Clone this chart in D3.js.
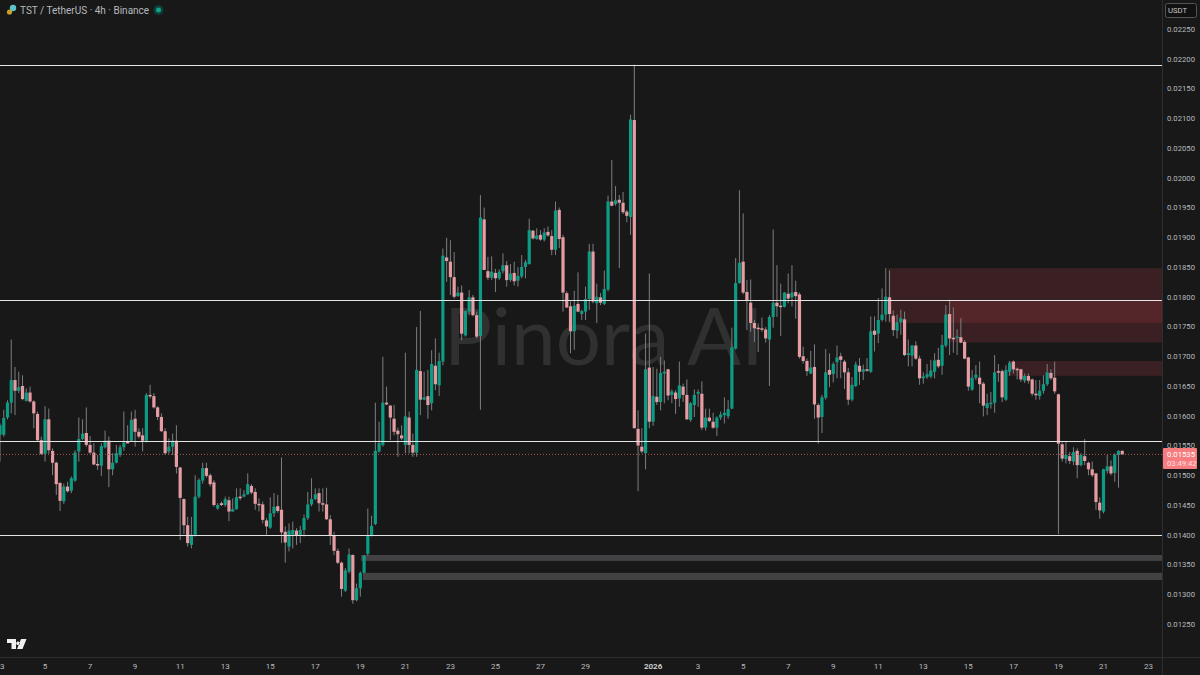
<!DOCTYPE html>
<html lang="en">
<head>
<meta charset="UTF-8">
<title>TST / TetherUS 4h</title>
<script src="https://d3js.org/d3.v7.min.js"></script>
<style>
    html, body { margin: 0; padding: 0; background: #181818; }
    svg { display: block; }
    text { font-family: "Roboto", "Noto Sans", sans-serif; }
</style>
</head>
<body>
<svg id="chart" width="1200" height="675"></svg>
<script>
// 4h candles from 3 Dec 2025, prices in 1e-5 USDT
const opens = [1568,1568,1597,1622,1660,1642,1650,1625,1639,1624,1603,1559,1536,1594,1541,1521,1487,1456,1481,1474,1491,1540,1561,1571,1551,1538,1519,1516,1547,1558,1510,1521,1534,1547,1556,1558,1595,1573,1567,1558,1635,1633,1614,1598,1574,1540,1548,1558,1513,1460,1416,1383,1400,
    1464,1491,1512,1500,1488,1444,1453,1450,1458,1439,1443,1464,1464,1468,1482,1472,1452,1451,1424,1412,1436,1448,1442,1405,1380,1400,1407,1398,1408,1428,1451,1460,1470,1453,1451,1426,1398,1373,1353,1306,1338,1366,1290,1310,1336,1368,1398,1418,1540,
    1551,1622,1617,1595,1575,1567,1551,1597,1551,1538,1675,1627,1633,1621,1684,1651,1691,1866,1859,1833,1801,1807,1735,1775,1799,1769,1734,1930,1843,1832,1840,1831,1843,1853,1828,1840,1827,
    1834,1850,1855,1911,1897,1904,1896,1909,1902,1879,1946,1900,1806,1784,1742,1788,1771,1775,1796,1876,1789,1799,1788,1812,1960,1956,1963,1958,1943,1934,2097,1578,1548,1537,
    1681,1590,1632,1623,1671,1678,1635,1639,1629,1649,1635,1593,1618,1637,1637,1580,1597,1590,1580,1597,1601,1599,1612,1713,1823,1859,1808,1790,1756,1748,1747,1745,1728,1766,1790,1785,1783,1805,1799,1808,1804,1700,1692,1671,1682,1618,
    1598,1630,1677,1670,1690,1700,1691,1673,1627,1650,1684,1674,1678,1674,1743,1738,1761,1770,1799,1768,1743,1757,1762,1702,1701,1718,1696,1663,1665,1666,1674,1694,1684,1718,1771,1731,1732,1732,
    1724,1698,1644,1664,1664,1654,1613,1620,1622,1675,1675,1627,1674,1691,1679,1678,1659,1667,1661,1637,1633,1642,1653,1672,1664,1636,1552,1527,1532,1523,1541,1517,1532,1521,1510,1503,1454,1439,1507,1515,1504,1534,1541];
const closes = [1584,1596,1622,1660,1642,1648,1628,1639,1624,1604,1559,1536,1594,1542,1521,1485,1457,1481,1473,1495,1538,1561,1570,1551,1538,1518,1517,1549,1558,1510,1521,1537,1547,1555,1555,1593,1573,1565,1558,1635,1633,1614,1598,1574,1537,1548,1558,1514,1462,1416,1386,1400,1464,
    1492,1512,1499,1485,1450,1450,1450,1460,1439,1443,1463,1463,1468,1485,1471,1452,1451,1425,1414,1436,1447,1440,1404,1387,1407,1408,1398,1408,1428,1451,1460,1468,1453,1452,1426,1398,1373,1353,1309,1340,1367,1290,1310,1336,1365,1398,1415,1541,1554,
    1622,1619,1597,1573,1569,1562,1599,1551,1538,1677,1627,1631,1618,1687,1653,1692,1869,1860,1833,1800,1807,1738,1776,1799,1769,1733,1933,1845,1832,1842,1831,1842,1853,1828,1839,1826,1835,
    1850,1858,1912,1898,1903,1896,1908,1903,1879,1945,1897,1807,1782,1742,1785,1775,1776,1796,1876,1792,1800,1790,1813,1960,1953,1962,1958,1942,1936,2098,1579,1550,1540,1678,
    1590,1633,1623,1672,1674,1634,1641,1628,1651,1635,1594,1621,1635,1640,1580,1597,1591,1580,1597,1602,1605,1611,1715,1823,1857,1807,1793,1756,1747,1746,1745,1730,1766,1790,1784,1783,1807,1797,1807,1801,1699,1692,1675,1681,1619,1597,
    1631,1673,1669,1687,1698,1694,1673,1627,1652,1686,1674,1678,1677,1742,1736,1761,1770,1800,1771,1744,1757,1764,1702,1705,1718,1696,1663,1666,1670,1676,1693,1683,1719,1770,1730,1730,1733,1723,
    1696,1649,1664,1669,1653,1617,1621,1622,1673,1674,1631,1677,1689,1678,1678,1661,1667,1659,1637,1635,1642,1653,1673,1663,1641,1553,1528,1534,1524,1539,1517,1534,1524,1510,1500,1455,1441,1510,1515,1503,1534,1541,1535];
const highs = [1587,1610,1626,1728,1682,1674,1668,1646,1649,1626,1607,1565,1616,1612,1545,1523,1489,1486,1489,1498,1542,1597,1594,1614,1566,1554,1534,1554,1575,1565,1537,1551,1551,1607,1584,1607,1610,1579,1579,1638,1652,1638,1616,1604,1579,1562,1570,1584,1514,1461,1430,1430,1500,
    1495,1521,1521,1503,1492,1453,1456,1464,1464,1461,1478,1478,1475,1503,1485,1478,1461,1456,1428,1463,1470,1467,1530,1414,1419,1422,1411,1415,1434,1472,1495,1478,1478,1478,1479,1433,1405,1377,1355,1344,1377,1367,1318,1338,1366,1444,1432,1622,1590,
    1699,1649,1618,1618,1580,1584,1706,1607,1570,1749,1776,1674,1677,1710,1730,1706,1881,1899,1895,1875,1817,1819,1777,1811,1803,1775,1971,1950,1867,1868,1847,1846,1873,1860,1855,1859,1850,
    1870,1862,1931,1912,1915,1912,1915,1918,1912,1960,1950,1904,1809,1792,1810,1841,1778,1817,1889,1889,1822,1806,1844,1970,2030,1986,1971,1976,1946,2106,2190,1609,1579,1738,
    1839,1682,1679,1699,1693,1679,1644,1643,1691,1654,1661,1623,1644,1644,1658,1612,1612,1605,1599,1607,1631,1626,1748,1865,1979,1940,1828,1829,1761,1755,1765,1749,1769,1913,1853,1822,1808,1839,1853,1827,1807,1716,1696,1709,1720,1621,
    1635,1712,1705,1690,1718,1706,1694,1680,1665,1691,1697,1686,1697,1767,1767,1798,1814,1848,1844,1777,1770,1778,1775,1728,1719,1725,1701,1673,1687,1694,1705,1714,1736,1786,1795,1782,1745,1764,
    1727,1699,1677,1685,1691,1657,1637,1640,1702,1687,1678,1685,1692,1693,1681,1679,1671,1671,1663,1660,1660,1668,1687,1678,1691,1637,1556,1556,1539,1547,1545,1537,1561,1523,1523,1504,1463,1511,1534,1525,1537,1542,1542];
const lows = [1523,1565,1594,1604,1601,1638,1626,1624,1622,1579,1556,1534,1523,1536,1500,1467,1440,1452,1471,1470,1489,1523,1559,1548,1536,1517,1509,1499,1545,1480,1500,1520,1531,1541,1554,1556,1548,1562,1540,1555,1629,1612,1593,1573,1534,1536,1534,1503,1391,1401,1380,1377,1397,
    1461,1486,1496,1481,1447,1442,1448,1447,1423,1439,1442,1458,1463,1467,1468,1442,1439,1419,1400,1410,1430,1437,1386,1353,1372,1377,1383,1386,1397,1425,1448,1458,1439,1439,1425,1383,1366,1351,1296,1304,1335,1284,1288,1296,1335,1365,1397,1416,1538,
    1548,1618,1559,1567,1531,1559,1537,1537,1531,1531,1601,1626,1595,1609,1643,1633,1685,1825,1803,1797,1800,1727,1733,1769,1767,1730,1610,1845,1828,1828,1808,1828,1839,1817,1825,1819,1817,
    1831,1831,1854,1896,1896,1894,1893,1901,1870,1870,1882,1775,1781,1705,1711,1774,1761,1761,1778,1789,1756,1786,1786,1809,1952,1953,1848,1939,1925,1904,1579,1473,1537,1510,
    1579,1583,1618,1609,1621,1626,1621,1603,1615,1623,1593,1590,1598,1615,1576,1575,1589,1578,1566,1593,1587,1595,1611,1711,1822,1804,1744,1741,1724,1707,1741,1723,1650,1748,1766,1734,1782,1789,1784,1763,1696,1688,1667,1670,1595,1553,
    1571,1627,1648,1656,1663,1663,1645,1618,1624,1648,1652,1660,1674,1672,1708,1722,1758,1758,1758,1734,1730,1736,1700,1683,1683,1694,1652,1654,1662,1663,1663,1680,1669,1715,1702,1706,1702,1722,
    1695,1642,1642,1660,1621,1599,1601,1612,1605,1657,1623,1625,1667,1671,1661,1657,1655,1654,1633,1627,1627,1637,1650,1660,1637,1401,1523,1520,1519,1517,1495,1515,1517,1500,1497,1442,1427,1436,1503,1500,1489,1479,1534];

// horizontal levels, shaded zones (price bands starting at a bar) and axis labels
const levelPrices = [2189, 1794, 1558, 1399];
const redZoneStart = [236.6, 253, 268.6];
const redZoneTop = [1848, 1793, 1692];
const redZoneBottom = [1756, 1723, 1667];
const greyZoneStart = [96.2, 96.7];
const greyZoneTop = [1366, 1336];
const greyZoneBottom = [1356, 1324];
const priceTicks = [2250,2200,2150,2100,2050,2000,1950,1900,1850,1800,1750,1700,1650,1600,1550,1500,1450,1400,1350,1300,1250];
const dayOffsets = [0,2,4,6,8,10,12,14,16,18,20,22,24,26,29,31,33,35,37,39,41,43,45,47,49,51];
const dayLabels = ["3","5","7","9","11","13","15","17","19","21","23","25","27","29","2026","3","5","7","9","11","13","15","17","19","21","23"];
const lastPrice = 1535;
const countdown = "03:49:42";

const plotRight = 1162, plotBottom = 657;
const svg = d3.select("#chart");

const x = d3.scaleLinear().domain([0, 6]).range([0, 22.52]);  // bars, 6 a day
const y = d3.scaleLinear().domain([2250, 1250]).range([29, 624]);

const barsPerDay = 6;
const green = "#0c9b84", pink = "#e59ca2";

svg.append("rect").attr("width", 1200).attr("height", 675).attr("fill", "#181818");

// the reference is a soft screenshot, a tiny blur gets the candles closer to it
svg.append("defs").append("filter").attr("id", "soft")
    .append("feGaussianBlur").attr("stdDeviation", 0.3);

// watermark
svg.append("text")
    .attr("x", 444).attr("y", 365)
    .attr("fill", "#303030")
    .style("font-family", "Lato")
    .style("font-size", "80px")
    .text("Pinora AI");

// zones
const zones = svg.append("g");
redZoneStart.forEach((s, i) => {
    zones.append("rect")
        .attr("x", x(s)).attr("y", y(redZoneTop[i]))
        .attr("width", plotRight - x(s))
        .attr("height", y(redZoneBottom[i]) - y(redZoneTop[i]))
        .attr("fill", "#a83a44").attr("fill-opacity", 0.24);
});
greyZoneStart.forEach((s, i) => {
    zones.append("rect")
        .attr("x", x(s)).attr("y", y(greyZoneTop[i]))
        .attr("width", plotRight - x(s))
        .attr("height", y(greyZoneBottom[i]) - y(greyZoneTop[i]))
        .attr("fill", "#424244");
});

// candles
const candles = svg.append("g").attr("filter", "url(#soft)").selectAll("g")
    .data(d3.range(opens.length))
    .join("g");

candles.append("line")
    .attr("x1", i => x(i))
    .attr("x2", i => x(i))
    .attr("y1", i => y(highs[i]))
    .attr("y2", i => y(lows[i]))
    .attr("stroke", "#7b7d80")
    .attr("stroke-width", 1);

candles.append("rect")
    .attr("x", i => x(i) - 1.6)
    .attr("width", 3.2)
    .attr("y", i => y(Math.max(opens[i], closes[i])))
    .attr("height", i => Math.max(1.5, Math.abs(y(opens[i]) - y(closes[i]))))
    .attr("fill", i => closes[i] >= opens[i] ? green : pink);

// levels
svg.append("g").selectAll("line")
    .data(levelPrices)
    .join("line")
    .attr("x1", 0).attr("x2", plotRight)
    .attr("y1", d => Math.round(y(d)) + 0.5).attr("y2", d => Math.round(y(d)) + 0.5)
    .attr("stroke", "#e4e4e4").attr("stroke-width", 1);

// last price line
svg.append("line")
    .attr("x1", 0).attr("x2", plotRight)
    .attr("y1", y(lastPrice)).attr("y2", y(lastPrice))
    .attr("stroke", "#a85a58").attr("stroke-width", 1)
    .attr("stroke-dasharray", "1 2");

// axis borders
svg.append("line").attr("x1", plotRight + 0.5).attr("x2", plotRight + 0.5)
    .attr("y1", 0).attr("y2", 675).attr("stroke", "#2e2e2e");
svg.append("line").attr("x1", 0).attr("x2", 1200)
    .attr("y1", plotBottom + 0.5).attr("y2", plotBottom + 0.5).attr("stroke", "#2e2e2e");

// price axis
const priceAxis = d3.axisRight(y)
    .tickValues(priceTicks)
    .tickSize(0)
    .tickPadding(0)
    .tickFormat(d => (d / 1e5).toFixed(5));
svg.append("g")
    .attr("transform", "translate(1167,0)")
    .call(priceAxis)
    .call(g => g.select(".domain").remove())
    .selectAll("text")
    .attr("fill", "#b8babf")
    .style("font-family", "Roboto")
    .style("font-size", "7.7px");

// time axis
const timeAxis = svg.append("g");
timeAxis.selectAll("text")
    .data(dayOffsets)
    .join("text")
    .attr("x", d => x(d * barsPerDay))
    .attr("y", 669)
    .attr("text-anchor", (d, i) => i === 0 ? "start" : "middle")
    .attr("fill", (d, i) => dayLabels[i] === "2026" ? "#d8d8d8" : "#b8babf")
    .style("font-size", "8px")
    .style("font-weight", (d, i) => dayLabels[i] === "2026" ? 600 : 400)
    .text((d, i) => dayLabels[i]);

// last price label
svg.append("rect").attr("x", 1163).attr("y", y(lastPrice) - 6.5)
    .attr("width", 34).attr("height", 21).attr("rx", 1).attr("fill", "#f77c80");
svg.append("text").attr("x", 1167).attr("y", y(lastPrice) + 2.5)
    .attr("fill", "#ffffff").style("font-size", "7.7px")
    .text((lastPrice / 1e5).toFixed(5));
svg.append("text").attr("x", 1167).attr("y", y(lastPrice) + 11.5)
    .attr("fill", "#ffe0e0").style("font-size", "7.7px")
    .text(countdown);

// header
const header = svg.append("g");
header.append("circle").attr("cx", 13).attr("cy", 8).attr("r", 3.2).attr("fill", "#5fc3c9");
header.append("circle").attr("cx", 9.5).attr("cy", 12).attr("r", 2.6).attr("fill", "#c9a227");
header.append("text").attr("x", 20).attr("y", 13.5)
    .attr("fill", "#b6b8bd").style("font-size", "10px")
    .text("TST / TetherUS · 4h · Binance");
header.append("circle").attr("cx", 158.5).attr("cy", 10).attr("r", 5).attr("fill", "#0c3f36");
header.append("circle").attr("cx", 158.5).attr("cy", 10).attr("r", 2.5).attr("fill", "#12a088");

// unit box
svg.append("rect").attr("x", 1165.5).attr("y", 3.5).attr("width", 31).attr("height", 14)
    .attr("rx", 2).attr("fill", "#111111").attr("stroke", "#555");
svg.append("text").attr("x", 1168).attr("y", 13)
    .attr("fill", "#c8c8c8").style("font-size", "7.7px").text("USDT");

// TV logo
svg.append("path")
    .attr("d", "M7 639h9v10h-4.5v-6H7z M18 641.5a1.8 1.8 0 1 0 0.01 0z M21 639h5.5l-4 10h-5.5z")
    .attr("fill", "#f0f0f0");
</script>
</body>
</html>
